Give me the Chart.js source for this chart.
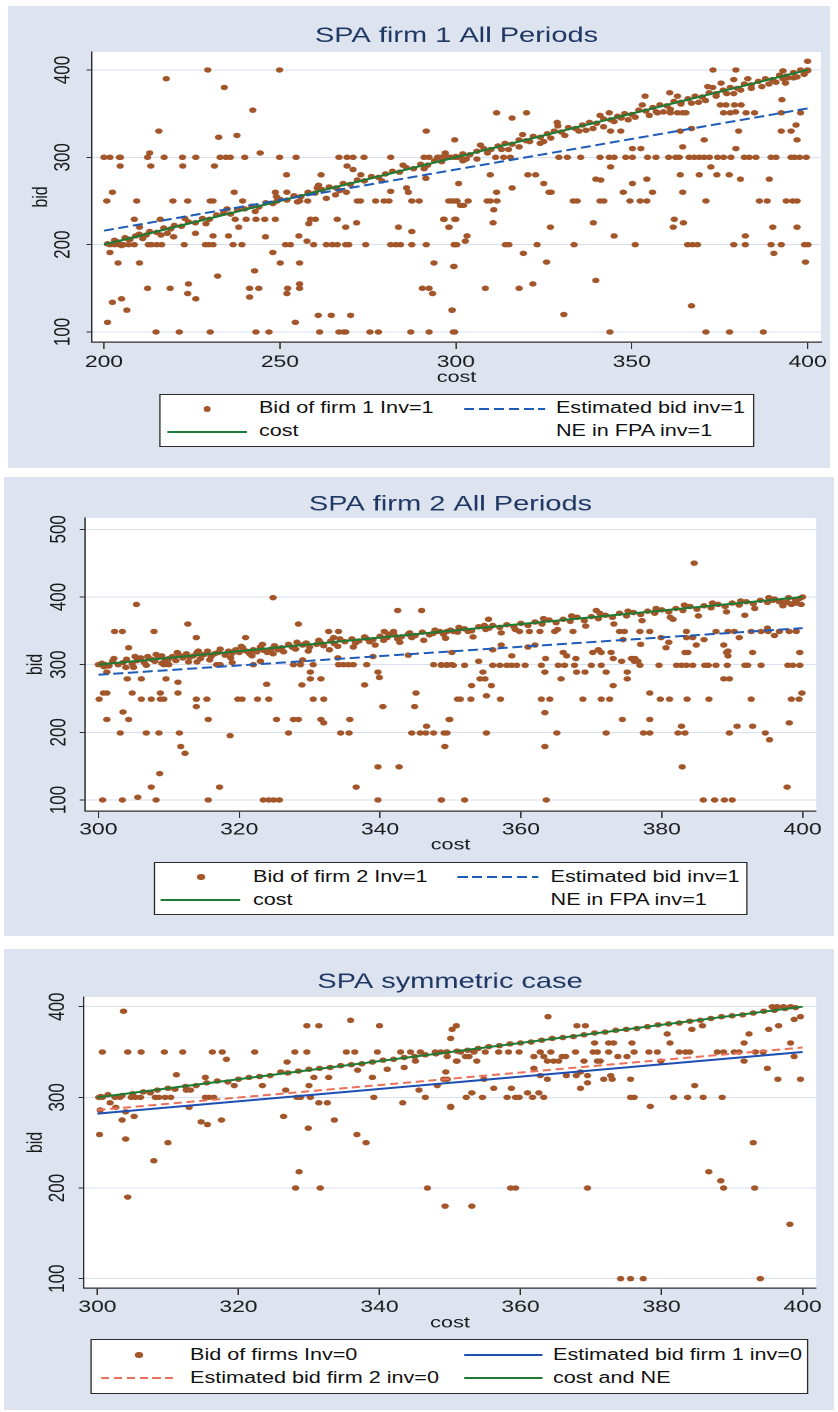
<!DOCTYPE html>
<html>
<head>
<meta charset="utf-8">
<script src="https://cdn.jsdelivr.net/npm/chart.js@4.4.1/dist/chart.umd.min.js"></script>
<style>
  body { margin:0; background:#fff; width:838px; height:1412px; position:relative; overflow:hidden; font-family:"Liberation Sans", Arial, sans-serif; }
  .bg { position:absolute; background:#dde4f0; }
  .stretch { position:absolute; left:0; width:621px; transform-origin:0 0; transform:scaleX(1.3494); }
  .stretch canvas { position:absolute; left:0; top:0; }
  .legend { position:absolute; background:#fff; border:1.5px solid #2b2b2b; box-sizing:border-box; }
  .txt { position:absolute; font-size:16px; line-height:20px; color:#111; white-space:nowrap; }
  .dot { position:absolute; width:5.4px; height:5.4px; border-radius:50%; background:#a3562a; }
  .ln { position:absolute; height:2px; }
</style>
</head>
<body>
<div class="bg" style="left:8px;top:6px;width:822px;height:462px"></div>
<div class="bg" style="left:4px;top:477px;width:830px;height:459px"></div>
<div class="bg" style="left:4px;top:949px;width:830px;height:461px"></div>

<div class="stretch" style="top:0;height:470px">
  <canvas id="c1" width="621" height="390"></canvas>
  <div class="legend" style="left:117.6px;top:394px;width:441px;height:53px"></div>
  <div class="dot" style="left:150.6px;top:406.3px"></div>
  <div class="txt" style="left:191.9px;top:398px">Bid of firm 1 Inv=1</div>
  <div class="ln" style="left:343.9px;width:60px;top:408px;background:repeating-linear-gradient(to right,#1f5cb8 0 7.5px,transparent 7.5px 11px)"></div>
  <div class="txt" style="left:412px;top:398px">Estimated bid inv=1</div>
  <div class="ln" style="left:123.8px;width:59px;top:431px;background:#1e7b34"></div>
  <div class="txt" style="left:191.9px;top:421px">cost</div>
  <div class="txt" style="left:412px;top:421px">NE in FPA inv=1</div>
</div>

<div class="stretch" style="top:470px;height:470px">
  <canvas id="c2" width="621" height="388"></canvas>
  <div class="legend" style="left:113.7px;top:392px;width:440px;height:53px"></div>
  <div class="dot" style="left:146.3px;top:404.3px"></div>
  <div class="txt" style="left:187.5px;top:397px">Bid of firm 2 Inv=1</div>
  <div class="ln" style="left:339.4px;width:60px;top:406px;background:repeating-linear-gradient(to right,#1f5cb8 0 7.5px,transparent 7.5px 11px)"></div>
  <div class="txt" style="left:408px;top:397px">Estimated bid inv=1</div>
  <div class="ln" style="left:118.6px;width:59.6px;top:429px;background:#1e7b34"></div>
  <div class="txt" style="left:187.5px;top:420px">cost</div>
  <div class="txt" style="left:408px;top:420px">NE in FPA inv=1</div>
</div>

<div class="stretch" style="top:940px;height:472px">
  <canvas id="c3" width="621" height="395"></canvas>
  <div class="legend" style="left:67.4px;top:399px;width:531.4px;height:55px"></div>
  <div class="dot" style="left:100.3px;top:412.3px"></div>
  <div class="txt" style="left:140.8px;top:405px">Bid of firms Inv=0</div>
  <div class="ln" style="left:343.9px;width:58px;top:414px;background:#1d4fb3"></div>
  <div class="txt" style="left:409.8px;top:405px">Estimated bid firm 1 inv=0</div>
  <div class="ln" style="left:74.5px;width:57.4px;top:437px;background:repeating-linear-gradient(to right,#e9705a 0 6px,transparent 6px 9.5px)"></div>
  <div class="txt" style="left:140.8px;top:428px">Estimated bid firm 2 inv=0</div>
  <div class="ln" style="left:343.9px;width:58px;top:437px;background:#1e7b34"></div>
  <div class="txt" style="left:409.8px;top:428px">cost and NE</div>
</div>

<script>
// ---- data ----
const xTicks1 = [200, 250, 300, 350, 400];
const yTicks1 = [100, 200, 300, 400];
const xTicks23 = [300, 320, 340, 360, 380, 400];
const yTicks2 = [100, 200, 300, 400, 500];
const yTicks3 = [100, 200, 300, 400];

const costLine1 = [[200, 200], [400, 400]];
const estLine1 = [[200, 216], [400, 356]];
const costLine2 = [[300, 300], [400, 400]];
const estLine2 = [[300, 285], [400, 354]];
const costLine3 = [[300, 300], [400, 400]];
const estFirm1 = [[300, 282], [400, 350]];
const estFirm2 = [[300, 286], [400, 355]];

const firm1Bids = [
[229.5,400],[249.9,400],[217.7,390],[234.2,380],[242.3,354],[215.6,330],[291.6,330],[237.8,325],[232.6,323],[213,305],[244.4,305],
[200,300],[201.7,300],[204.4,300],[204.7,300],[212.4,300],[217.1,300],[222.3,300],[226.1,300],[233,300],[234.7,300],[235.9,300],[240,300],[249.9,300],[254.6,300],[266.8,300],[269.1,300],[270.8,300],[273.9,300],[281.5,300],[291,300],[292.4,300],[294.8,300],[296.2,300],[297.6,300],[299.5,300],
[204.6,290],[213.3,290],[222.4,290],[231.4,290],[269.1,290],[270.8,286],[251.9,280],[261.7,280],
[202.4,260],[237,260],[248.7,260],[252,260],[268.9,260],
[200.8,250],[209.3,250],[219.6,250],[223.8,250],[230.2,250],[231,250],[239.4,250],[249.2,250],[255.6,250],[257.9,250],[272,250],[272.9,250],[277.2,250],[279.6,250],[281,250],[287.5,250],[289.6,250],[298.6,250],[300.3,250],
[260.6,265],[263.2,253],[265.8,257],[281.5,261],[286,265],[286.5,260],[291.5,276],
[208.6,229],[216,229],[237.3,229],[240.4,229],[243.2,229],[245.7,229],[248.7,229],[258.7,229],[260.1,229],[266.3,229],[296.7,229],[300,229],
[271.8,225],[258.2,224],[210.1,220],[238.3,220],[268.7,220],[283.7,220],[298.1,220],[287.5,215],
[207.4,206],[216.2,211],[219.8,209],[226,213],[231,210],[235.4,210],[245.9,209],[255.4,210],[257.7,204],
[201.7,200],[203,200],[204.4,200],[205.5,200],[207,200],[208.6,200],[212.6,200],[213.5,200],[215,200],[216.4,200],[222.8,200],[228.8,200],[229.8,200],[231,200],[236.7,200],[239.2,200],[251.6,200],[253,200],[259.6,200],[263.2,200],[264.9,200],[266.3,200],[268.7,200],[269.6,200],[274.4,200],[281.5,200],[283,200],[284.3,200],[287.5,200],[291.6,200],[299.5,200],
[201.7,191],[248,191],[204,179],[210.1,179],[250.1,179],[255.6,179],[293.8,179],[299.5,175],[242.8,170],[232.3,164],
[212.4,150],[218.8,150],[241.4,150],[244,150],[252.2,150],[255.6,150],[290.5,150],[292.4,150],[293.4,144],
[224,155],[255.6,155],[223.8,144],[252,144],[241.4,140],[226.1,138],[205,138],[202.4,134],[206.5,125],[299,125],
[260.9,119],[264.6,119],[270.1,119],[201,111],[254.4,111],
[214.8,100],[221.4,100],[230.2,100],[243.2,100],[246.9,100],[261.3,100],[266.8,100],[268.2,100],[268.7,100],[275.6,100],[278,100],[287.2,100],[292.4,100],[299.3,100],
[400,410],[373.1,400],[379.6,400],[400,400],[394.4,391],[379,389],[393.7,385],[375.4,385],[371.6,381],[360.8,374],[353.8,370],[392.7,366],[375.2,360],[376.8,360],[379.2,360],[381.1,360],[379.5,352],
[311.6,351],[320.1,351],[343.6,351],[357.3,351],[361,351],[363,351],[364.5,351],[365.4,351],[376.1,351],[378,351],[382.5,351],[384.9,351],[392.5,351],[398,351],
[316,345],[328.8,340],[396.7,337],[344,330],[346.9,330],[363.8,330],[367,333],[380.4,330],[392.5,330],[395.3,330],
[299.7,320],[370.6,320],[397,320],[350.2,310],[352.6,310],[364.5,312],[379.6,310],
[295.6,300],[297,300],[298.5,300],[300.3,300],[301.3,300],[311.3,300],[313.6,300],[315.5,300],[329.3,300],[331.7,300],[335.5,300],[341,300],[343.6,300],[345,300],[348.3,300],[350.2,300],[354.5,300],[356.9,300],[360.5,300],[362.5,300],[363.5,300],[366.3,300],[367.8,300],[369.2,300],[370.6,300],[372.1,300],[374.4,300],[376.1,300],[378.2,300],[382,300],[383.4,300],[385.3,300],[389.6,300],[391,300],[395.3,300],[396.3,300],[397.7,300],[399.6,300],
[344,289],[372.5,289],[309.8,280],[320.5,280],[322.7,280],[363.8,280],[369.2,280],[374.2,280],[377.7,280],
[339.8,275],[354.3,275],[389.1,275],[341.2,274],[380.9,275],[300.8,270],[325,270],[350.2,270],[316,265],
[311.6,260],[326.5,260],[327.1,260],[347.6,260],[355.9,260],[364.5,260],
[298,250],[299.4,250],[300.3,250],[303.5,250],[308.9,250],[309.8,250],[311.7,250],[333.4,250],[334.5,250],[341,250],[342.1,250],[349.5,250],[352.4,250],[354.3,250],[371.1,250],[386.3,250],[388.5,250],[393.9,250],[395.8,250],[397,250],
[301.3,245],[302.2,245],[310.8,240],[296.5,229],[299.7,229],[362.1,229],[310.6,225],[339.1,225],[364.7,225],
[298,220],[326.9,220],[361.8,220],[390.1,220],[397,220],[345,210],[303.2,210],[382.3,210],[302.7,204],
[299.6,200],[300.3,200],[314.1,200],[315.1,200],[323.1,200],[333.6,200],[351,200],[365.9,200],[367.3,200],[368.7,200],[379,200],[382.3,200],[389.6,200],[392.5,200],[399.1,200],[400.1,200],
[319.2,190],[390.4,190],[325.8,180],[399.4,180],[299.4,175],[339.8,159],[321.9,155],[308.4,150],[318,150],[367,130],[298.9,125],[330.7,120],
[299.7,100],[343.8,100],[371.1,100],[377.8,100],[387.4,100],
[201,201],[203,205],[204,203],[206,208],[207,206],[209,210],[210,212],[212,211],[213,215],[215,214],[217,219],[219,218],[220,222],[222,221],[224,226],[226,225],[228,230],[230,229],[232,234],[234,236],[236,235],[238,240],[240,241],[242,244],[244,243],[246,248],[248,247],[250,252],[252,251],[254,256],[256,255],[258,260],[260,259],[262,263],[264,266],[266,265],[268,270],[270,269],[272,274],[274,273],[276,278],[278,277],[280,281],[282,284],[284,283],[286,288],[288,287],[290,292],[292,291],[294,296],[296,295],[298,300],[300,301],[302,304],[304,303],[306,307],[308,310],[310,309],[312,313],[314,316],[316,315],[318,320],[320,319],[322,324],[324,323],[326,327],[328,330],[330,329],[332,334],[334,333],[336,337],[338,340],[340,339],[342,344],[344,343],[346,347],[348,350],[350,349],[352,354],[354,353],[356,357],[358,360],[360,359],[362,364],[364,363],[366,367],[368,370],[370,369],[372,374],[374,373],[376,377],[378,380],[380,379],[382,384],[384,383],[386,387],[388,390],[390,389],[392,394],[394,393],[396,397],[398,400],[400,399],
[302,296],[306,298],[309,305],[313,309],[318,312],[321,318],[324,316],[327,322],[331,325],[335,330],[339,333],[342,335],[345,341],[347,345],[351,346],[355,348],[357,352],[361,355],[364,361],[367,362],[371,365],[374,370],[377,373],[381,377],[384,379],[387,381],[391,386],[393,390],[396,391],[399,395],
[205,199],[211,207],[218,213],[223,230],[229,224],[235,241],[243,238],[249,255],[255,249],[261,268],[267,262],[273,280],[279,273],[285,291],[291,287],[297,305],[303,298],[307,314],[315,309],[319,326],[325,318],[329,336],[337,331],[341,348],[349,343],[353,360],[359,352],[363,370],[369,363],[373,380],[379,373],[383,390],[389,384],[393,399],[397,392]
];

const firm2Bids = [
[324.8,399],[305.4,389],[342.5,380],[345.9,380],[312.7,360],[328.4,360],
[302.3,349],[303.4,349],[307.9,349],[332.7,349],[334.1,349],[340.6,349],[341.9,349],
[313.9,340],[320.9,340],[333.4,340],[304.3,325],[327.7,325],
[300,300],[301,300],[309.3,300],[310,300],[316.8,300],[317.3,300],[322,300],[327.7,300],[328.7,300],[330.5,300],[334.1,300],[334.8,300],[335.5,300],[336.2,300],[338.1,300],[347.6,300],[348.7,300],[349.5,300],[350.2,300],
[301.2,289],[330.1,289],[339.7,289],[304.1,279],[306.1,279],[309.6,279],[311.3,274],[330.1,279],[331.6,279],[339.9,281],
[328.9,270],[337.8,270],[323.9,271],
[300.7,258],[301.2,258],[304.8,258],[308.8,258],[311.3,258],[345.1,258],
[300.1,249],[306.1,249],[307.5,249],[308.8,249],[309.3,249],[313.9,249],[315.4,249],[319.8,249],[320.4,249],[322.6,249],[324.2,249],[330.5,249],[332,249],[351,249],
[313.9,238],[340.4,238],[344.9,238],[303.5,230],
[301.2,219],[304.3,219],[315.6,219],[325.3,219],[327.7,219],[328.4,219],[331.6,219],[332,214],[335.7,219],[349.8,219],[346.6,209],
[303.1,199],[306.8,199],[308.6,199],[311.5,199],[327,199],[334.4,199],[335.6,199],[344.5,199],[345.7,199],[346.5,199],[347.6,199],[349.5,199],
[318.7,195],[311.7,179],[349.2,179],[312.3,169],[339.7,149],[342.7,149],[308.7,139],[307.5,119],[317.2,119],[336.6,119],[305.6,104],
[300.6,100],[303.4,100],[308.2,100],[315.6,100],[323.4,100],[324.2,100],[324.9,100],[325.7,100],[339.7,100],[348.7,100],
[384.6,450],[370.7,380],[379.2,380],[355.4,367],[381.6,367],[391.8,373],
[395.8,395],[396.7,393],[397.8,392],[398.6,390],[399.1,396],[399.6,398],[398.4,389],[399.8,389],
[348.5,349],[349.5,349],[350.4,349],[359.8,349],[362.7,349],[364.8,349],[367.4,349],[374,349],[374.7,349],[376.9,349],[378.3,349],[383.5,349],[387.7,349],[389.4,349],[390.3,349],[392.7,349],[394.1,349],[395.1,349],[396.7,349],[398.1,349],[399.1,349],
[395,354],[379.9,340],[383.5,340],[384.4,340],[374.5,337],[357.2,329],[362,329],[384.9,329],[388.8,329],[380.6,325],
[350.2,318],[370.2,318],[371.4,318],[372.8,318],[383.3,318],[383.7,318],[389.2,318],[389.4,320],[392.9,318],[399.6,318],
[358.7,313],[366.5,313],[389.4,313],[363.5,309],[367.8,309],[373.1,309],[375.7,309],[376.2,309],
[354,305],[374.3,305],[376.1,305],[376.6,305],
[348.7,299],[349.5,299],[350.4,299],[352,299],[356,299],[357,299],[358,299],[358.7,299],[359.4,299],[360.6,299],[362.9,299],[365.3,299],[366.2,299],[367.6,299],[370,299],[371.4,299],[376.9,299],[379.6,299],[382.1,299],[382.8,299],[383.5,299],[384.4,299],[386.1,299],[386.6,299],[387.7,299],[389.3,299],[391.8,299],[392.2,299],[394.1,299],[397.9,299],[398.6,299],[399.6,299],
[354.6,289],[363.4,289],[367.9,289],[369.1,289],[372.1,289],[375.1,289],
[354.2,279],[354.9,279],[365.7,279],[375.1,279],[388.8,279],[389.6,279],
[353,269],[355.8,269],[373.1,269],[378.3,258],[399.9,258],[355.1,254],
[351.4,249],[352.9,249],[357.1,249],[362.9,249],[364.1,249],[368.8,249],[371.4,249],[372.6,249],[379.8,249],[381.1,249],[383.6,249],[386.7,249],[392.7,249],[398.4,249],[399.5,249],
[363.4,229],[349.9,219],[374.4,219],[378.3,219],[398.1,214],[382.8,209],[390.7,209],[392.9,209],
[349.1,199],[355.1,199],[365.1,199],[372.1,199],[377.4,199],[378.3,199],[382.3,199],[383.3,199],[389.6,199],[394.7,199],
[395.3,189],[363.4,179],[382.9,149],[397.8,119],
[348.7,100],[352,100],[363.6,100],[385.9,100],[387.5,100],[388.9,100],[390,100],
[300.5,302],[301.5,298],[302,305],[302.8,300],[303.5,303],[304,308],[304.8,301],[305.5,306],[306,310],[306.5,303],[307,312],[307.5,308],[308,305],[308.5,311],[309,313],[309.5,307],[310,309],[310.5,312],[311,306],[311.5,314],[312,310],[312.5,316],[313,311],[313.5,313],[314,318],[314.5,309],[315,315],[315.5,320],[316,312],[316.5,316],[317,318],[318,314],[318.5,320],[319,317],[319.5,322],[320,318],[320.5,325],[321,320],[321.5,316],[322,322],[322.5,319],[323,326],[323.5,321],[324,318],[324.5,323],[325,328],[325.5,322],[326,325],[327,330],[327.5,326],[328,323],[329,329],[329.5,332],[330,326],[331,330],[331.5,333],[332,328],[333,335],[333.5,331],[334,327],[335,334],[336,338],[336.5,332],[337,335],[338,339],[338.5,334],[339,337],[340,342],[340.5,336],[341,340],[342,344],[342.5,338],[343,341],[344,345],[344.5,340],[345,343],[346,348],[347,344],[347.5,346],[348,349],[349,345],[350,351],[351,348],[352,353],[352.5,349],[353,350],[354,356],[355,352],[355.5,354],[356,358],[357,355],[358,359],[359,356],[360,361],[361,358],[362,363],[363,360],[364,366],[365,362],[366,367],[367,364],[368,370],[369,365],[370,371],[371,368],[372,373],[373,370],[374,376],[375,372],[376,377],[377,374],[378,379],[379,376],[380,381],[381,378],[382,383],[383,380],[384,386],[385,382],[386,387],[387,384],[388,389],[389,386],[390,391],[391,388],[392,393],[393,390],[394,395],[395,392],[396,397],[397,394],[398,399],[399,396],[400,400],
[305,296],[309,302],[314,304],[319,303],[323,305],[329,307],[334,310],[339,312],[344,314],[356,322],[361,326],[366,318],[371,322],[377,330],[381,333],[386,337],[391,340],[396,343],
[300.8,297],[302.2,309],[303.9,296],[305.2,312],[306.8,299],[308.2,315],[309.8,303],[311.2,318],[312.8,304],[314.2,320],[315.8,307],[317.3,323],[318.8,310],[320.3,327],[321.8,313],[323.3,330],[324.8,316],[326.3,319],[328.2,333],[329.8,320],[331.3,336],[332.8,322],[334.3,338],[336.2,326],[337.8,341],[339.3,329],[341.2,345],[342.8,333],[344.2,347],[346.2,336],[347.8,351],[349.3,339],[351.2,355],[353.2,341],[354.8,358],[357.2,347],[359.2,352],[361.2,349],[363.2,368],[365.2,352],[367.2,372],[369.2,357],[371.2,376],[373.2,360],[375.2,379],[377.2,365],[379.2,383],[381.2,370],[383.2,388],[385.2,372],[387.2,391],[389.2,378],[391.2,394],[393.2,383],[395.2,399],[397.2,387],[399.2,391]
];

const symBids = [
[303.7,395],[335.9,385],[329.7,379],[331.4,379],[340,379],[350.3,375],[350.9,379],[350.1,365],
[300.7,350],[304.3,350],[306.2,350],[309.5,350],[312.1,350],[316.3,350],[317.7,350],[322.3,350],[328,350],[329.7,350],[335.3,350],[336.5,350],[339.7,350],[343,350],[344.4,350],[345.8,350],[347.9,350],
[318.3,342],[326.9,339],[345.1,340],[336.9,330],[341.1,331],[350.9,340],[311.2,325],
[315.3,322],[330.7,322],[332.8,322],[339,322],[343.5,333],[319.4,313],[323.4,313],[330,313],[348.2,313],
[312.6,308],[313.2,308],[326.7,308],[345.6,308],
[300.2,300],[300.7,300],[303.2,300],[304.8,300],[305.4,300],[306.1,300],[308.2,300],[308.7,300],[309.6,300],[310.4,300],[315.3,300],[315.8,300],[316.5,300],[328.3,300],[328.8,300],[330.2,300],[339.2,300],[346.5,300],
[301.8,294],[331.4,294],[332.6,294],[343.3,294],[302.6,289],[313,289],[350.1,289],
[300.4,286],[304,284],[305.2,279],[326.4,279],[303.5,275],[317.6,275],[333.6,275],[314.7,273],[315.6,270],[329.9,266],[300.3,259],[336.8,259],[304,254],[310,250],[338.1,250],[308,230],[328.6,218],[328.1,200],[331.6,200],[346.8,200],[304.3,190],[349.3,180],
[395.7,400],[396.4,400],[397.3,400],[398.3,400],[363.9,389],[399.7,389],[398.8,386],[368,379],[369.2,379],[385.8,379],[396.6,379],[384.3,375],[395.2,375],[380.8,370],[392.4,370],
[370.5,360],[372.5,360],[373.2,360],[375.8,360],[381.2,360],[391.7,360],[398.3,360],
[348.7,350],[349.6,350],[351.5,350],[353.4,350],[355,350],[356.9,350],[358.3,350],[359.8,350],[362.8,350],[364.3,350],[367.8,350],[370.3,350],[370.9,350],[372.5,350],[376.1,350],[378.2,350],[379.4,350],[382.5,350],[383.4,350],[384,350],[387.9,350],[388.8,350],[390.3,350],[391,350],[393.3,350],[394.4,350],
[349.6,345],[352.2,345],[352.7,345],[361.9,345],[363.3,345],[365.9,345],[366.4,345],[373.8,345],[375.1,345],[398.8,345],
[351,340],[353.8,340],[363.8,340],[364.7,340],[365.4,340],[369,340],[370.9,340],[371.3,340],[379.9,340],[391.7,340],
[361.9,332],[395,332],[349.4,328],[368.5,328],[367.9,324],[369.5,324],[362.8,324],[366.5,324],[372.8,324],
[349.1,320],[349.6,320],[354.8,320],[363.8,320],[371.8,320],[373,320],[375.6,320],[396.5,320],[399.7,320],
[369.5,316],[384.7,313],[368.5,310],[356.2,310],[358.7,310],[353.1,305],[361,305],[362.6,305],
[352.3,300],[354.6,300],[358.1,300],[359.3,300],[359.8,300],[361.7,300],[363.3,300],[375.6,300],[376.1,300],[381.7,300],[383.7,300],[385.9,300],[388.6,300],
[350.1,290],[378.4,290],[393,250],[386.7,218],[388.4,208],
[358.6,200],[359.3,200],[369.5,200],[388.8,200],[393.2,200],[353.1,180],[398.2,160],
[374.2,100],[375.6,100],[377.4,100],[394,100],
[300.5,301],[301.5,303],[302.5,300],[303.5,302],[305,304],[306.5,306],[307.5,305],[308.5,308],[310,310],[311,309],[312.5,312],[314,313],[315.5,316],[317,318],[318.5,317],[320,320],[321.5,322],[323,323],[324.5,324],[326,328],[327,327],[328.5,329],[330,331],[331.5,332],[333,333],[334.5,335],[336,336],[337.5,337],[339,339],[340.5,341],[342,342],[343.5,344],[345,345],[346.5,347],[348,348],[349.5,350],[351,351],[352.5,352],[354,354],[355.5,356],[357,357],[358.5,359],[360,360],[361.5,361],[363,363],[364.5,365],[366,366],[367.5,367],[369,369],[370.5,371],[372,372],[373.5,374],[375,375],[376.5,376],[378,378],[379.5,380],[381,381],[382.5,382],[384,384],[385.5,385],[387,387],[388.5,389],[390,390],[391.5,391],[393,393],[394.5,395],[396,396],[397.5,398],[399,399]
];

// ---- drawing ----
const S = 838 / 621;
const FONT = '"Liberation Sans", Arial, sans-serif';
const brown = '#a3562a';
const green = '#1e7b34';
const axisCol = '#2e2e2e';

const plotBg = {
  id: 'plotBg',
  beforeDraw(chart) {
    const { ctx, chartArea: a } = chart;
    ctx.save();
    ctx.fillStyle = '#fff';
    ctx.fillRect(a.left, a.top, a.right - a.left, a.bottom - a.top);
    ctx.restore();
  }
};

function pts(arr) { return arr.map(p => ({ x: p[0], y: p[1] })); }

function dots(arr) {
  return { data: pts(arr), showLine: false, pointRadius: 2.75, pointHoverRadius: 2.75,
           pointBackgroundColor: brown, pointBorderWidth: 0, order: 5 };
}

function line(arr, color, dash, order) {
  return { data: pts(arr), showLine: true, pointRadius: 0, pointHoverRadius: 0,
           borderColor: color, borderWidth: 2, borderDash: dash || [], order: order };
}

// g holds page pixel positions relative to the canvas top
function makePanel(id, g, titleText, datasets, xr, yr, xTicks, yTicks) {
  const lhT = 21.5 * 1.2, lhA = 16 * 1.2, lhK = 17 * 1.2;
  const padTop = 8, padLeft = 8;
  const plotLeft = g.plotLeft / S, plotRight = g.plotRight / S;
  const tPadTop = g.titleY - padTop - lhT / 2;
  const tPadBot = g.plotTop - padTop - tPadTop - lhT;
  const xBottom = g.xTitleY + lhA / 2;
  const yTickLen = 4;

  new Chart(document.getElementById(id), {
    type: 'scatter',
    data: { datasets },
    options: {
      responsive: false,
      animation: false,
      devicePixelRatio: 2,
      layout: { padding: { top: padTop, left: padLeft, right: 621 - plotRight, bottom: g.height - xBottom } },
      plugins: {
        legend: { display: false },
        tooltip: { enabled: false },
        title: { display: true, fullSize: false, text: titleText, color: '#1f3763',
                 font: { family: FONT, size: 21.5, weight: 'normal', lineHeight: 1.2 },
                 padding: { top: tPadTop, bottom: tPadBot } }
      },
      scales: {
        x: {
          type: 'linear', min: xr[0], max: xr[1],
          afterBuildTicks: s => { s.ticks = xTicks.map(v => ({ value: v })); },
          afterFit: s => { s.height = xBottom - g.plotBottom; },
          grid: { drawOnChartArea: false, drawTicks: true, tickLength: 7, tickColor: axisCol, tickWidth: 1 },
          border: { color: axisCol, width: 1.3 },
          ticks: { autoSkip: false, maxRotation: 0, color: '#1a1a1a',
                   padding: g.xLabelY - g.plotBottom - 7 - lhK / 2,
                   font: { family: FONT, size: 17, lineHeight: 1.2 } },
          title: { display: true, text: 'cost', color: '#1a1a1a', padding: { top: 0, bottom: 0 },
                   font: { family: FONT, size: 16, lineHeight: 1.2 } }
        },
        y: {
          type: 'linear', min: yr[0], max: yr[1],
          afterBuildTicks: s => { s.ticks = yTicks.map(v => ({ value: v })); },
          afterFit: s => { s.width = plotLeft - padLeft; },
          grid: { color: '#d6e0f1', lineWidth: 1, drawTicks: true, tickLength: yTickLen, tickColor: axisCol, tickWidth: 1 },
          border: { color: axisCol, width: 1 },
          ticks: { autoSkip: false, minRotation: 90, maxRotation: 90, crossAlign: 'center', color: '#1a1a1a',
                   padding: plotLeft - yTickLen - 14.2 - g.yLabelX / S,
                   font: { family: FONT, size: 17, lineHeight: 1.2 } },
          title: { display: true, text: 'bid', color: '#1a1a1a',
                   padding: { top: g.yTitleX / S - padLeft - lhA / 2, bottom: 0 },
                   font: { family: FONT, size: 16, lineHeight: 1.2 } }
        }
      }
    },
    plugins: [plotBg]
  });
}

makePanel('c1',
  { height: 390, titleY: 36, plotTop: 52, plotBottom: 342, xLabelY: 362.5, xTitleY: 377.7,
    plotLeft: 92, plotRight: 821, yLabelX: 63, yTitleX: 41 },
  'SPA firm 1 All Periods',
  [line(costLine1, green, null, 1), line(estLine1, '#1f5cb8', [7.5, 3.5], 0), dots(firm1Bids)],
  [196.6, 403.8], [88.5, 420.6], xTicks1, yTicks1);

makePanel('c2',
  { height: 388, titleY: 34.5, plotTop: 48, plotBottom: 341, xLabelY: 360, xTitleY: 375,
    plotLeft: 85, plotRight: 816, yLabelX: 59, yTitleX: 36 },
  'SPA firm 2 All Periods',
  [line(costLine2, green, null, 1), line(estLine2, '#1f5cb8', [7.5, 3.5], 0), dots(firm2Bids)],
  [298.1, 401.9], [83.7, 516.7], xTicks23, yTicks2);

makePanel('c3',
  { height: 395, titleY: 42, plotTop: 57, plotBottom: 348, xLabelY: 367.5, xTitleY: 383,
    plotLeft: 84, plotRight: 816, yLabelX: 58, yTitleX: 36 },
  'SPA symmetric case',
  [line(costLine3, green, null, 0), line(estFirm2, '#e9705a', [6, 3.5], 1), line(estFirm1, '#1d4fb3', null, 2), dots(symBids)],
  [298.1, 401.9], [89.7, 410.7], xTicks23, yTicks3);
</script>
</body>
</html>
